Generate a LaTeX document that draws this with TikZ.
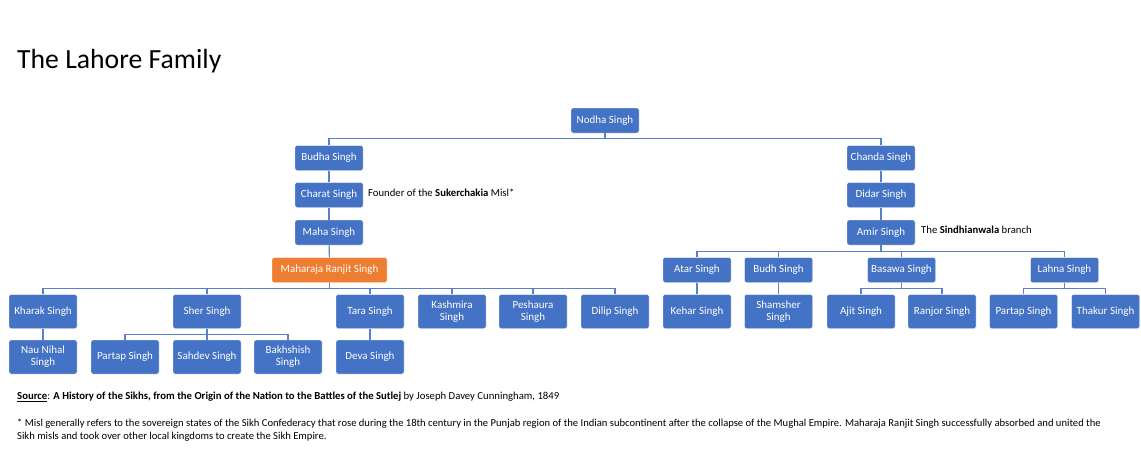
\documentclass[tikz,border=0pt]{standalone}
\usepackage{fontspec}
\setmainfont{Carlito}
\definecolor{nblue}{HTML}{4472C4}
\definecolor{norange}{HTML}{ED7D31}
\definecolor{lblue}{HTML}{5B7FCA}
\begin{document}
\begin{tikzpicture}[x=1pt,y=-1pt,
  person/.style={rectangle, rounded corners=2pt, fill=nblue, draw=white, line width=0.4pt,
    text=white, font=\fontsize{11}{12}\selectfont, minimum width=68pt, inner sep=1pt, align=center},
  short/.style={person, minimum height=25pt},
  tall/.style={person, minimum height=34pt},
  king/.style={short, fill=norange, minimum width=115pt},
  link/.style={draw=lblue, line width=1.1pt},
  note/.style={font=\fontsize{10.7}{13}\selectfont, anchor=west, inner sep=0pt}
]
\useasboundingbox (0,0) rectangle (1141,450);
\fill[white] (0,0) rectangle (1141,450);

\node[anchor=base west, inner sep=0pt, font=\fontsize{27.7}{30}\selectfont] (title) at (17,68) {The Lahore Family};

% top
\node[short] (nodha) at (605,120.5) {Nodha Singh};
\node[short] (budha) at (329,158) {Budha Singh};
\node[short] (charat) at (329,195) {Charat Singh};
\node[short] (maha) at (329,232.5) {Maha Singh};
\node[king] (ranjit) at (329.5,270) {Maharaja Ranjit Singh};
\node[short] (chanda) at (881,158) {Chanda Singh};
\node[short] (didar) at (881,195) {Didar Singh};
\node[short] (amir) at (881,232.5) {Amir Singh};

\node[note] (founder) at (368,193) {Founder of the \textbf{Sukerchakia} Misl*};
\node[note] (sindh) at (921,230) {The \textbf{Sindhianwala} branch};

% Ranjit children
\node[tall] (kharak) at (43,311.5) {Kharak Singh};
\node[tall] (sher) at (207,311.5) {Sher Singh};
\node[tall] (tara) at (370,311.5) {Tara Singh};
\node[tall] (kashmira) at (452,311.5) {Kashmira\\Singh};
\node[tall] (peshaura) at (533,311.5) {Peshaura\\Singh};
\node[tall] (dilip) at (615,311.5) {Dilip Singh};

\node[tall] (naunihal) at (43,357) {Nau Nihal\\Singh};
\node[tall] (partapa) at (125,357) {Partap Singh};
\node[tall] (sahdev) at (207,357) {Sahdev Singh};
\node[tall] (bakhshish) at (288,357) {Bakhshish\\Singh};
\node[tall] (deva) at (370,357) {Deva Singh};

% Amir children
\node[short] (atar) at (697,270) {Atar Singh};
\node[short] (budh) at (778.5,270) {Budh Singh};
\node[short] (basawa) at (901.5,270) {Basawa Singh};
\node[short] (lahna) at (1064.5,270) {Lahna Singh};

\node[tall] (kehar) at (697,311.5) {Kehar Singh};
\node[tall] (shamsher) at (778.5,311.5) {Shamsher\\Singh};
\node[tall] (ajit) at (861,311.5) {Ajit Singh};
\node[tall] (ranjor) at (942,311.5) {Ranjor Singh};
\node[tall] (partapb) at (1023.5,311.5) {Partap Singh};
\node[tall] (thakur) at (1105.5,311.5) {Thakur Singh};

% connectors
\foreach \c in {budha,chanda} \draw[link] (nodha.south) -- ++(0,5.5) -| (\c.north);
\draw[link] (budha) -- (charat);
\draw[link] (charat) -- (maha);
\draw[link] (maha) -- (ranjit);
\draw[link] (chanda) -- (didar);
\draw[link] (didar) -- (amir);
\foreach \c in {kharak,sher,tara,kashmira,peshaura,dilip} \draw[link] (ranjit.south) -- ++(0,6) -| (\c.north);
\draw[link] (kharak) -- (naunihal);
\draw[link] (tara) -- (deva);
\foreach \c in {partapa,sahdev,bakhshish} \draw[link] (sher.south) -- ++(0,5.5) -| (\c.north);
\foreach \c in {atar,budh,basawa,lahna} \draw[link] (amir.south) -- ++(0,6) -| (\c.north);
\draw[link] (atar) -- (kehar);
\draw[link] (budh) -- (shamsher);
\foreach \c in {ajit,ranjor} \draw[link] (basawa.south) -- ++(0,6) -| (\c.north);
\foreach \c in {partapb,thakur} \draw[link] (lahna.south) -- ++(0,6) -| (\c.north);

% footer
\node[note] (source) at (17,397) {\textbf{\underline{Source}}: \textbf{A History of the Sikhs, from the Origin of the Nation to the Battles of the Sutlej} by Joseph Davey Cunningham, 1849};
\node[note, anchor=north west, align=left, font=\fontsize{10.6}{13}\selectfont] (foot) at (17,419) {* Misl generally refers to the sovereign states of the Sikh Confederacy that rose during the 18th century in the Punjab region of the Indian subcontinent after the collapse of the Mughal Empire. Maharaja Ranjit Singh successfully absorbed and united the\\Sikh misls and took over other local kingdoms to create the Sikh Empire.};
\end{tikzpicture}
\end{document}
